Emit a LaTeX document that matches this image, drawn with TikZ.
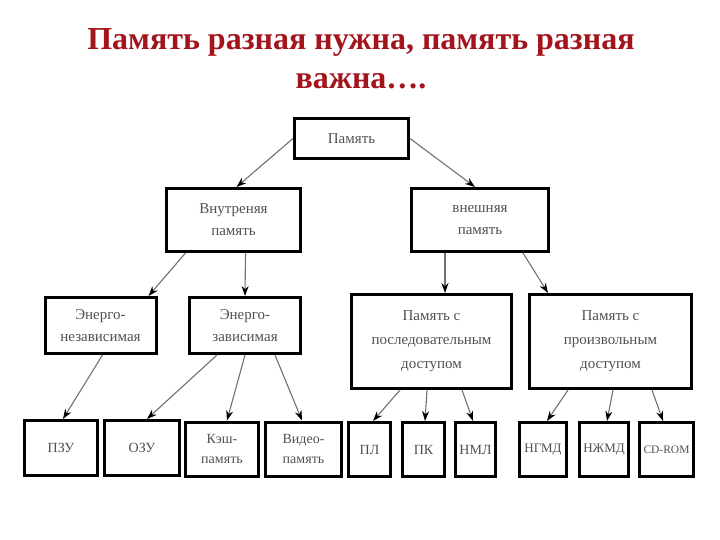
\documentclass[tikz,border=0pt]{standalone}
\usepackage{fontspec}
\setmainfont{Liberation Serif}
\usepackage{tikz}
\usetikzlibrary{arrows.meta}
\definecolor{mem-title}{HTML}{A3141C}
\definecolor{mem-text}{HTML}{505050}
\definecolor{mem-line}{HTML}{707070}

\begin{document}
\begin{tikzpicture}[x=1pt, y=-1pt,
    box/.style={draw, line width=3pt, text=mem-text, align=center, inner sep=0pt,
        font=\fontsize{15}{22}\selectfont},
    small/.style={font=\fontsize{14}{20}\selectfont},
    link/.style={draw=mem-line, line width=1.1pt, -{Stealth[length=10pt, width=7pt, color=black]}}]
    \useasboundingbox (0,0) rectangle (720,540);
    % title
    \node[mem-title, font=\bfseries\fontsize{32}{39}\selectfont, align=center] (title) at (361,59)
        {Память разная нужна, память разная\\важна….};
    % levels
    \node[box, minimum width=114, minimum height=40] (mem) at (351.5,138.5) {Память};
    \node[box, minimum width=134, minimum height=63] (vnutr) at (233.5,220) {Внутреняя\\память};
    \node[box, minimum width=137, minimum height=63] (vnesh) at (480,220) {внешняя\\память};
    \node[box, minimum width=111, minimum height=56] (nezav) at (100.5,325.5) {Энерго-\\независимая};
    \node[box, minimum width=111, minimum height=56] (zav) at (245,325.5) {Энерго-\\зависимая};
    \node[box, minimum width=160, minimum height=94, font=\fontsize{15}{24}\selectfont] (posl) at (431.5,341.5) {Память с\\последовательным\\доступом};
    \node[box, minimum width=162, minimum height=94, font=\fontsize{15}{24}\selectfont] (proizv) at (610.5,341.5) {Память с\\произвольным\\доступом};
    % bottom row
    \node[box, small, minimum width=73, minimum height=55] (pzu) at (61,448) {ПЗУ};
    \node[box, small, minimum width=75, minimum height=55] (ozu) at (142,448) {ОЗУ};
    \node[box, small, minimum width=73, minimum height=54] (kesh) at (222,449) {Кэш-\\память};
    \node[box, small, minimum width=76, minimum height=54] (video) at (303.5,449) {Видео-\\память};
    \node[box, small, minimum width=42, minimum height=54] (pl) at (369.5,449.5) {ПЛ};
    \node[box, small, minimum width=42, minimum height=54] (pk) at (423.5,449.5) {ПК};
    \node[box, small, minimum width=40, minimum height=54] (nml) at (475.5,449.5) {НМЛ};
    \node[box, minimum width=47, minimum height=54, font=\fontsize{13}{16}\selectfont] (ngmd) at (543,449.5) {НГМД};
    \node[box, minimum width=49, minimum height=54, font=\fontsize{13}{16}\selectfont] (nzhmd) at (604,449.5) {НЖМД};
    \node[box, minimum width=54, minimum height=54, font=\fontsize{11.5}{16}\selectfont] (cdrom) at (666.5,449.5) {CD-ROM};
    % arrows
    \draw[link] (mem.west) -- ([xshift=3]vnutr.north);
    \draw[link] (mem.east) -- ([xshift=-5]vnesh.north);
    \draw[link] ([xshift=-48]vnutr.south) -- ([xshift=48]nezav.north);
    \draw[link] ([xshift=12]vnutr.south) -- (zav.north);
    \draw[link] ([xshift=-35]vnesh.south) -- ([xshift=13.5]posl.north);
    \draw[link] ([xshift=43]vnesh.south) -- ([xshift=-62.5]proizv.north);
    \draw[link] ([xshift=2]nezav.south) -- ([xshift=2]pzu.north);
    \draw[link] ([xshift=-28]zav.south) -- ([xshift=5]ozu.north);
    \draw[link] (zav.south) -- ([xshift=5]kesh.north);
    \draw[link] ([xshift=30]zav.south) -- ([xshift=-1.5]video.north);
    \draw[link] ([xshift=-31.5]posl.south) -- ([xshift=3.5]pl.north);
    \draw[link] ([xshift=-4.5]posl.south) -- ([xshift=1.5]pk.north);
    \draw[link] ([xshift=30.5]posl.south) -- ([xshift=-2.5]nml.north);
    \draw[link] ([xshift=-42.5]proizv.south) -- ([xshift=4]ngmd.north);
    \draw[link] ([xshift=2.5]proizv.south) -- ([xshift=3]nzhmd.north);
    \draw[link] ([xshift=41.5]proizv.south) -- ([xshift=-3.5]cdrom.north);
\end{tikzpicture}
\end{document}
